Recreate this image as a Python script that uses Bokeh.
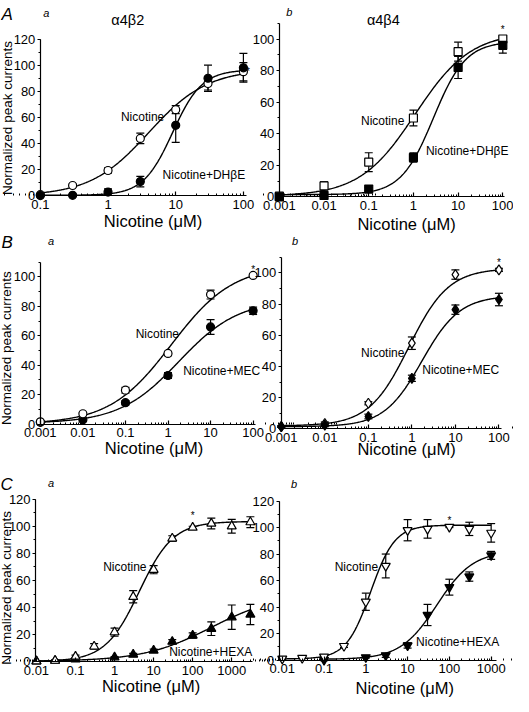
import numpy as np
from bokeh.plotting import figure
from bokeh.models import (Range1d, LogScale, LinearAxis, LogAxis, FixedTicker,
                          SingleIntervalTicker, CustomJSTickFormatter, Label)
from bokeh.embed import file_html
from bokeh.resources import INLINE

# ---------------- data ----------------
# A a : alpha4beta2, nicotine vs nicotine + DHbetaE
aa_x = [0.1, 0.3, 1, 3, 10, 30, 100]
aa_nic = [1, 8, 19.5, 44, 66, 86, 95]
aa_nic_err = [0.5, 1, 2, 4, 3, 5, 7]
aa_drug = [0.3, 0.5, 3, 11, 54, 90, 98]
aa_drug_err = [0.5, 0.5, 2.5, 4, 13, 10, 11]
aa_nic_fit = [97, 4.0, 1.0, 0.0]      # amplitude, EC50, nH, bottom of drawn fit
aa_drug_fit = [96, 9.0, 2.0, 0.5]

# A b : alpha4beta4, nicotine vs nicotine + DHbetaE
ab_x = [0.001, 0.01, 0.1, 1, 10, 100]
ab_nic = [0.5, 7, 22, 50, 92, 100]
ab_nic_err = [0.5, 2.5, 6, 5, 6, 1.5]
ab_drug = [0, 1, 5, 25, 82, 96]
ab_drug_err = [0.5, 0.5, 1, 3, 7, 5]
ab_nic_fit = [104, 1.1, 0.7, 0.5]
ab_drug_fit = [97, 2.8, 1.2, 1.5]

# B a : nicotine vs nicotine + MEC
ba_x = [0.001, 0.01, 0.1, 1, 10, 100]
ba_nic = [1.5, 7, 23, 48, 88, 101]
ba_nic_err = [0.5, 1, 2, 1.5, 3, 1]
ba_drug = [1.2, 3, 14.5, 33, 66, 77]
ba_drug_err = [0.5, 0.8, 1.5, 2, 5, 2.5]
ba_nic_fit = [108, 1.2, 0.6, 0.0]
ba_drug_fit = [84, 1.8, 0.62, 0.5]

# B b : nicotine vs nicotine + MEC
bb_x = [0.001, 0.01, 0.1, 1, 10, 100]
bb_nic = [1.5, 3.5, 16.5, 55, 99, 102]
bb_nic_err = [0.5, 1, 1, 4, 3, 1]
bb_drug = [1.5, 2.5, 8, 32.5, 76.5, 83]
bb_drug_err = [0.5, 1, 1.5, 2, 3, 4]
bb_nic_fit = [101, 0.85, 0.95, 2.0]
bb_drug_fit = [84, 1.7, 1.0, 1.5]

# C a : nicotine vs nicotine + HEXA
ca_nic_x = [0.01, 0.03, 0.1, 0.3, 1, 3, 10, 30, 100, 300, 1000, 3000]
ca_nic = [0.5, 1, 4, 11.5, 22, 48, 68, 91, 99, 102, 100, 103]
ca_nic_err = [0.5, 0.5, 1, 2, 3, 4.5, 3, 2, 1, 4, 5, 4]
ca_drug_x = [0.01, 0.03, 0.1, 1, 3, 10, 30, 100, 300, 1000, 3000]
ca_drug = [0.5, 1, 2, 3.5, 5.5, 8.5, 15, 19.5, 24.5, 33, 35]
ca_drug_err = [0.3, 0.3, 0.5, 0.5, 0.8, 1, 1.5, 2, 5, 9, 7.5]
ca_nic_fit = [103, 4.3, 1.0, 0.5]
ca_drug_fit = [50, 300, 0.5, 0.5]

# C b : nicotine vs nicotine + HEXA
cb_nic_x = [0.01, 0.03, 0.1, 0.3, 1, 3, 10, 30, 100, 300, 1000]
cb_nic = [1, 1.5, 2.5, 10.5, 44, 71, 98, 99, 100.5, 99, 96]
cb_nic_err = [0.5, 0.5, 0.5, 1, 6.5, 9, 8, 7, 0.5, 5, 7]
cb_drug_x = [0.1, 1, 3, 10, 30, 100, 300, 1000]
cb_drug = [0, 2, 3.5, 11, 34, 55, 63, 79]
cb_drug_err = [0.5, 0.5, 1.5, 2, 8, 6, 3.5, 3]
cb_nic_fit = [101, 1.3, 1.5, 0.8]
cb_drug_fit = [82, 50, 1.0, 0.5]

x_labels_ab = [0.001, 0.01, 0.1, 1, 10, 100]
x_labels_a = [0.1, 1, 10, 100]
x_labels_c = [0.01, 0.1, 1, 10, 100, 1000]

# ---------------- layout ----------------
FONT = "Liberation Sans"
W, H = 513, 700
SX = 513 / 528.0
SY = 700 / 709.0


def px(rx):
    return (rx - 3) * SX


def py(ry):
    return H - (ry - 3) * SY


panels = [
    dict(key="Aa", nx=aa_x, ny=aa_nic, ne=aa_nic_err, dx=aa_x, dy=aa_drug, de=aa_drug_err,
         nf=aa_nic_fit, df=aa_drug_fit, ticks=x_labels_a, marker="circle", size=8, open_top=False,
         xv=(0.1, 100), xp=(44, 253), yp0=201, ymax=120, ypm=42, xb=(0.1, 110), yb=120,
         nlab=(1.55, 60), dlab=(6.4, 16), dtext="Nicotine+DHβE", ast=(117, 95)),
    dict(key="Ab", nx=ab_x, ny=ab_nic, ne=ab_nic_err, dx=ab_x, dy=ab_drug, de=ab_drug_err,
         nf=ab_nic_fit, df=ab_drug_fit, ticks=x_labels_ab, marker="square", size=8, open_top=False,
         xv=(0.001, 100), xp=(290, 520), yp0=202, ymax=100, ypm=42, xb=(0.001, 110), yb=110,
         nlab=(0.067, 48), dlab=(1.9, 29.4), dtext="Nicotine+DHβE", ast=(100, 106)),
    dict(key="Ba", nx=ba_x, ny=ba_nic, ne=ba_nic_err, dx=ba_x, dy=ba_drug, de=ba_drug_err,
         nf=ba_nic_fit, df=ba_drug_fit, ticks=x_labels_ab, marker="circle", size=8, open_top=True,
         xv=(0.001, 100), xp=(44, 263), yp0=432, ymax=100, ypm=283, xb=(0.001, 115), yb=110,
         nlab=(0.174, 61), dlab=(2.27, 36), dtext="Nicotine+MEC", ast=(100, 105)),
    dict(key="Bb", nx=bb_x, ny=bb_nic, ne=bb_nic_err, dx=bb_x, dy=bb_drug, de=bb_drug_err,
         nf=bb_nic_fit, df=bb_drug_fit, ticks=x_labels_ab, marker="diamond", size=10, open_top=False,
         xv=(0.001, 100), xp=(292, 516), yp0=437, ymax=100, ypm=279, xb=(0.001, 115), yb=110,
         nlab=(0.068, 49), dlab=(1.73, 38), dtext="Nicotine+MEC", ast=(100, 107)),
    dict(key="Ca", nx=ca_nic_x, ny=ca_nic, ne=ca_nic_err, dx=ca_drug_x, dy=ca_drug, de=ca_drug_err,
         nf=ca_nic_fit, df=ca_drug_fit, ticks=x_labels_c, marker="triangle", size=9, open_top=True,
         xv=(0.01, 1000), xp=(40, 241), yp0=673, ymax=120, ypm=508, xb=(0.0095, 3500), yb=120,
         nlab=(0.51, 70), dlab=(25, 7.3), dtext="Nicotine+HEXA", ast=(100, 108)),
    dict(key="Cb", nx=cb_nic_x, ny=cb_nic, ne=cb_nic_err, dx=cb_drug_x, dy=cb_drug, de=cb_drug_err,
         nf=cb_nic_fit, df=cb_drug_fit, ticks=x_labels_c, marker="inverted_triangle", size=9, open_top=True,
         xv=(0.01, 1000), xp=(293, 508), yp0=671, ymax=120, ypm=510, xb=(0.0085, 1350), yb=120,
         nlab=(0.18, 70), dlab=(16, 13.4), dtext="Nicotine+HEXA", ast=(100, 105)),
]

xr, yr, xsc = {}, {}, {}
for pan in panels:
    k = pan["key"]
    (v0, v1), (a0, a1) = pan["xv"], pan["xp"]
    p0, p1 = px(a0), px(a1)
    d = (p1 - p0) / (np.log10(v1) - np.log10(v0))
    xr["x" + k] = Range1d(10 ** (np.log10(v0) - p0 / d), 10 ** (np.log10(v0) + (W - p0) / d))
    xsc["x" + k] = LogScale()
    Y0, Ym = py(pan["yp0"]), py(pan["ypm"])
    s = (Ym - Y0) / pan["ymax"]
    yr["y" + k] = Range1d(-Y0 / s, (H - Y0) / s)

p = figure(width=W, height=H, x_range=Range1d(0, W), y_range=Range1d(0, H),
           x_axis_type=None, y_axis_type=None, toolbar_location=None,
           output_backend="svg", min_border=0, outline_line_color=None,
           extra_x_ranges=xr, extra_y_ranges=yr, extra_x_scales=xsc)
p.background_fill_color = "white"
p.border_fill_color = "white"

minor_all = [m * 10.0 ** e for e in range(-3, 4) for m in range(2, 10)]


def hill(xs, fit):
    amp, ec50, nh, bot = fit
    return bot + amp / (1.0 + (ec50 / xs) ** nh)


for pan in panels:
    k = pan["key"]
    xn, yn = "x" + k, "y" + k
    kw = dict(x_range_name=xn, y_range_name=yn)
    # fitted curves
    for xs_, fit in ((pan["nx"], pan["nf"]), (pan["dx"], pan["df"])):
        cx = np.logspace(np.log10(min(xs_)), np.log10(max(xs_)), 250)
        p.line(cx, hill(cx, fit), line_color="black", line_width=1.4, **kw)
    # error bars
    for xs_, ys_, es_ in ((pan["nx"], pan["ny"], pan["ne"]), (pan["dx"], pan["dy"], pan["de"])):
        xa, ya, ea = np.array(xs_), np.array(ys_), np.array(es_)
        p.segment(x0=xa, y0=ya - ea, x1=xa, y1=ya + ea, line_color="black", line_width=1.2, **kw)
        p.scatter(np.concatenate([xa, xa]), np.concatenate([ya - ea, ya + ea]), marker="dash",
                  size=8, line_color="black", line_width=1.2, **kw)
    # markers
    open_m = dict(x=pan["nx"], y=pan["ny"], fill_color="white")
    fill_m = dict(x=pan["dx"], y=pan["dy"], fill_color="black")
    order = [fill_m, open_m] if pan["open_top"] else [open_m, fill_m]
    for m in order:
        p.scatter(m["x"], m["y"], marker=pan["marker"], size=pan["size"], fill_color=m["fill_color"],
                  line_color="black", line_width=1.2, **kw)
    # axes
    yax = LinearAxis(fixed_location=pan["xb"][0], bounds=(0, pan["yb"]),
                     ticker=SingleIntervalTicker(interval=20, num_minor_ticks=2),
                     major_tick_out=3, major_tick_in=0, minor_tick_out=2, minor_tick_in=0,
                     major_label_standoff=2, axis_line_width=1.2, major_tick_line_width=1.2,
                     major_label_text_font=FONT, major_label_text_font_size="13px",
                     major_label_text_color="black", **kw)
    p.add_layout(yax, "left")
    xax = LogAxis(fixed_location=0, bounds=pan["xb"],
                  ticker=FixedTicker(ticks=pan["ticks"], minor_ticks=minor_all),
                  formatter=CustomJSTickFormatter(code="return String(tick);"),
                  major_tick_in=4, major_tick_out=0, minor_tick_in=2, minor_tick_out=0,
                  major_label_standoff=4, axis_line_width=1.2, major_tick_line_width=1.2,
                  major_label_text_font=FONT, major_label_text_font_size="13px",
                  major_label_text_color="black", **kw)
    p.add_layout(xax, "below")
    # curve labels and asterisk
    p.add_layout(Label(x=pan["nlab"][0], y=pan["nlab"][1], text="Nicotine", text_font=FONT,
                       text_font_size="12px", text_align="left", text_baseline="middle",
                       text_color="black", **kw))
    p.add_layout(Label(x=pan["dlab"][0], y=pan["dlab"][1], text=pan["dtext"], text_font=FONT,
                       text_font_size="12px", text_align="left", text_baseline="middle",
                       text_color="black", **kw))
    p.add_layout(Label(x=pan["ast"][0], y=pan["ast"][1], text="*", text_font=FONT,
                       text_font_size="10px", text_align="center", text_baseline="middle",
                       text_color="black", **kw))

# page-level texts (reference pixel positions)
page_texts = [
    ("A", 4, 17, "17px", "italic", "left"),
    ("a", 47, 16, "11px", "italic", "left"),
    ("α4β2", 134, 23, "14.5px", "normal", "center"),
    ("b", 297, 15, "11px", "italic", "left"),
    ("α4β4", 397, 23, "14.5px", "normal", "center"),
    ("B", 4, 248, "17px", "italic", "left"),
    ("a", 52, 247, "11px", "italic", "left"),
    ("b", 303, 247, "11px", "italic", "left"),
    ("C", 3, 493, "17px", "italic", "left"),
    ("a", 52, 492, "11px", "italic", "left"),
    ("b", 302, 493, "11px", "italic", "left"),
]
for t, rx, ry, fs, st, al in page_texts:
    p.add_layout(Label(x=px(rx), y=py(ry), text=t, text_font=FONT, text_font_size=fs,
                       text_font_style=st, text_align=al, text_baseline="alphabetic",
                       text_color="black"))

xlab_pos = [(160, 226), (421, 229), (161, 456), (421, 457), (158, 697), (419, 699)]
for rx, ry in xlab_pos:
    p.add_layout(Label(x=px(rx), y=py(ry), text="Nicotine (μM)", text_font=FONT,
                       text_font_size="16.5px", text_align="center", text_baseline="middle",
                       text_color="black"))

ylab_pos = [(10, 122), (9, 355), (9, 598)]
for rx, ry in ylab_pos:
    p.add_layout(Label(x=px(rx), y=py(ry), text="Normalized peak currents", text_font=FONT,
                       text_font_size="13.5px", text_align="center", text_baseline="middle",
                       angle=np.pi / 2, text_color="black"))

open("out.html", "w").write(file_html(p, INLINE))
